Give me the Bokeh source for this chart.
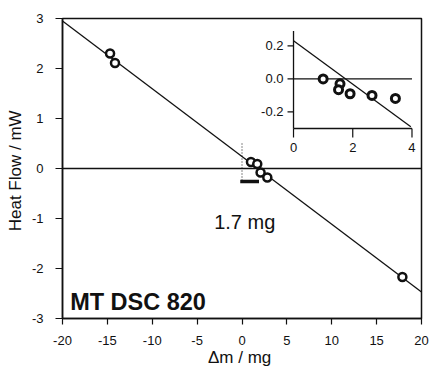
import math
from bokeh.plotting import figure
from bokeh.models import Range1d, FixedTicker, Span
from bokeh.core.properties import value
from bokeh.embed import file_html
from bokeh.resources import INLINE

FONT = "Liberation Sans"
INK = "#111111"

# ---------------- main panel data ----------------
main_x = [-14.7, -14.15, 1.0, 1.7, 2.07, 2.82, 17.87]
main_y = [2.30, 2.11, 0.13, 0.09, -0.08, -0.18, -2.17]
fit_x = [-20.0, 20.0]
fit_y = [2.95, -2.47]
x_ticks = [-20, -15, -10, -5, 0, 5, 10, 15, 20]
x_tick_labels = ["-20", "-15", "-10", "-5", "0", "5", "10", "15", "20"]
y_ticks = [-3, -2, -1, 0, 1, 2, 3]
y_tick_labels = ["-3", "-2", "-1", "0", "1", "2", "3"]
offset_mg = 1.7
offset_bar_x = [0.0, offset_mg]
offset_bar_y = [-0.26, -0.26]
guide_x = [0.0, 0.0]
guide_y = [0.5, -0.26]

# ---------------- inset data ----------------
inset_x = [1.0, 1.57, 1.52, 1.91, 2.65, 3.44]
inset_y = [0.0, -0.03, -0.065, -0.09, -0.10, -0.118]
inset_fit_x = [0.0, 3.96]
inset_fit_y = [0.23, -0.29]
inset_x_ticks = [0, 2, 4]
inset_x_tick_labels = ["0", "2", "4"]
inset_y_ticks = [-0.2, 0.0, 0.2]
inset_y_tick_labels = ["-0.2", "0.0", "0.2"]

p = figure(width=430, height=370,
           x_range=Range1d(-20, 20), y_range=Range1d(-3, 3),
           output_backend="svg", toolbar_location=None,
           min_border_left=62, min_border_right=9,
           min_border_top=18, min_border_bottom=52)
p.background_fill_color = "white"
p.border_fill_color = "white"
p.grid.visible = False
p.outline_line_color = INK
p.outline_line_width = 1.5

for ax in (p.xaxis[0], p.yaxis[0]):
    ax.axis_line_color = INK
    ax.axis_line_width = 1.5
    ax.major_tick_line_color = INK
    ax.major_tick_line_width = 1.2
    ax.major_tick_in = 0
    ax.minor_tick_line_color = None
    ax.major_label_text_font = FONT
    ax.major_label_text_font_size = "13px"
    ax.major_label_text_color = INK
    ax.axis_label_text_font = FONT
    ax.axis_label_text_font_size = "17px"
    ax.axis_label_text_font_style = "normal"
    ax.axis_label_text_color = INK

p.xaxis.ticker = FixedTicker(ticks=x_ticks)
p.xaxis.major_label_overrides = dict(zip(x_ticks, x_tick_labels))
p.xaxis.major_tick_out = 6
p.xaxis.major_label_standoff = 11
p.xaxis.axis_label = "Δm  / mg"
p.xaxis.axis_label_standoff = 0

p.yaxis.ticker = FixedTicker(ticks=y_ticks)
p.yaxis.major_label_overrides = dict(zip(y_ticks, y_tick_labels))
p.yaxis.major_tick_out = 7
p.yaxis.major_label_standoff = 12
p.yaxis.axis_label = "Heat Flow  / mW"
p.yaxis.axis_label_standoff = 4

# zero line
p.add_layout(Span(location=0, dimension="width", line_color=INK, line_width=1.5))
# fit line
p.line(fit_x, fit_y, line_color=INK, line_width=1.3)
# offset marker
p.line(guide_x, guide_y, line_color=INK, line_width=1, line_dash="1 2")
p.line(offset_bar_x, offset_bar_y, line_color=INK, line_width=3.5, line_cap="square")
# data points
p.scatter(main_x, main_y, marker="circle", size=8, fill_color="white",
          line_color=INK, line_width=2.5)

p.text(x=[-3.1], y=[-1.07], text=[f"{offset_mg} mg"], text_font=value(FONT),
       text_font_size="20px", text_color=INK, text_align="left",
       text_baseline="alphabetic")
p.text(x=[-19.15], y=[-2.66], text=["MT DSC 820"], text_font=value(FONT),
       text_font_size="23.5px", text_font_style="bold", text_color=INK,
       text_align="left", text_baseline="alphabetic")

# ---------------- inset ----------------
sub = p.subplot(x_source=Range1d(0, 4), y_source=Range1d(-0.3, 0.3),
                x_target=Range1d(5.74, 18.94), y_target=Range1d(0.8, 2.785))

sub.line([0, 0], [-0.3, 0.29], line_color=INK, line_width=1.3)
sub.line([0, 4], [-0.3, -0.3], line_color=INK, line_width=1.3)
sub.ray(x=inset_x_ticks, y=[-0.3] * len(inset_x_ticks), length=9, length_units="screen",
        angle=-math.pi / 2, line_color=INK, line_width=1.2)
sub.ray(x=[0] * len(inset_y_ticks), y=inset_y_ticks, length=6, length_units="screen",
        angle=math.pi, line_color=INK, line_width=1.2)
sub.text(x=inset_x_ticks, y=[-0.3] * len(inset_x_ticks), text=inset_x_tick_labels,
         y_offset=14, text_align="center", text_baseline="top",
         text_font=value(FONT), text_font_size="13px", text_color=INK)
sub.text(x=[0] * len(inset_y_ticks), y=inset_y_ticks, text=inset_y_tick_labels,
         x_offset=-10, text_align="right", text_baseline="middle",
         text_font=value(FONT), text_font_size="13px", text_color=INK)

sub.line([0, 4], [0, 0], line_color=INK, line_width=1.3)
sub.line(inset_fit_x, inset_fit_y, line_color=INK, line_width=1.3)
sub.scatter(inset_x, inset_y, marker="circle", size=8, fill_color="white",
            line_color=INK, line_width=3)

open("out.html", "w").write(file_html(p, INLINE))
